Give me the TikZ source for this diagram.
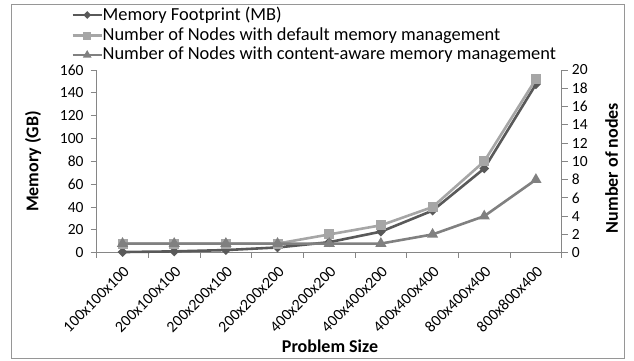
\documentclass[tikz,border=0pt]{standalone}
\usepackage{fontspec}
\setmainfont{Carlito}
\usepackage{tikz}
\usetikzlibrary{shapes.geometric}

\definecolor{serMem}{RGB}{89,89,89}
\definecolor{serDef}{RGB}{166,166,166}
\definecolor{serCa}{RGB}{128,128,128}
\definecolor{axisgray}{RGB}{134,134,134}
\definecolor{framegray}{RGB}{150,150,150}

\begin{document}
\begin{tikzpicture}[x=1pt, y=1pt,
    frame/.style={draw=framegray, line width=1.5pt},
    axisline/.style={draw=axisgray, line width=0.9pt},
    serline/.style={line width=2.6pt, line join=round},
    mkdia/.style={diamond, fill=serMem, inner sep=0pt, minimum size=10pt},
    mksq/.style={rectangle, fill=serDef, inner sep=0pt, minimum size=10pt},
    mktri/.style={regular polygon, regular polygon sides=3, fill=serCa, inner sep=0pt, minimum size=13pt},
    ticklabel/.style={font=\fontsize{15.5}{17}\selectfont, inner sep=0pt},
    catlabel/.style={font=\fontsize{15.8}{17}\selectfont, inner sep=0pt, rotate=45, anchor=east},
    legtext/.style={font=\fontsize{18.4}{20}\selectfont, inner sep=0pt, anchor=west},
    axtitle/.style={font=\fontsize{18}{20}\selectfont\bfseries, inner sep=0pt}]
    % Define plot area parameters
    \def\xL{96.7} % left value axis
    \def\xR{561.7} % right value axis
    \def\yZ{107.3} % zero line
    \def\yT{290} % top of plot area
    \def\cw{51.67} % width of one category
    \def\gb{1.1419} % pt per GB
    \def\nd{9.134} % pt per node

    \useasboundingbox (0,0) rectangle (634,360);

    % Chart border
    \draw[frame] (11.7,1.3) rectangle (624.3,355.7);

    % Left axis with ticks and labels
    \draw[axisline] (\xL,\yZ-5) -- (\xL,\yT);
    \foreach \v in {0,20,...,160} {
        \draw[axisline] (\xL-6,{\yZ+\v*\gb}) -- (\xL,{\yZ+\v*\gb});
        \node[ticklabel, anchor=east] (ly\v) at (\xL-13,{\yZ+\v*\gb}) {\v};
    }

    % Right axis with ticks and labels
    \draw[axisline] (\xR,\yZ) -- (\xR,\yT);
    \foreach \v in {0,2,...,20} {
        \draw[axisline] (\xR,{\yZ+\v*\nd}) -- (\xR+6,{\yZ+\v*\nd});
        \node[ticklabel, anchor=west] (ry\v) at (\xR+10,{\yZ+\v*\nd}) {\v};
    }

    % Category axis
    \draw[axisline] (\xL,\yZ) -- (\xR,\yZ);
    \foreach \i in {0,...,9}
        \draw[axisline] ({\xL+\i*\cw},\yZ) -- ++(0,-5);
    \foreach \lab [count=\i] in {100x100x100,200x100x100,200x200x100,200x200x200,400x200x200,400x400x200,400x400x400,800x400x400,800x800x400}
        \node[catlabel] (cat\i) at ({\xL+(\i-0.5)*\cw+4},\yZ-16) {\lab};

    % Data points
    \foreach \v [count=\i] in {0.576,1.152,2.304,4.608,9.216,18.432,36.864,73.728,147.456}
        \coordinate (m\i) at ({\xL+(\i-0.5)*\cw},{\yZ+\v*\gb});
    \foreach \v [count=\i] in {1,1,1,1,2,3,5,10,19}
        \coordinate (d\i) at ({\xL+(\i-0.5)*\cw},{\yZ+\v*\nd});
    \foreach \v [count=\i] in {1,1,1,1,1,1,2,4,8}
        \coordinate (c\i) at ({\xL+(\i-0.5)*\cw},{\yZ+\v*\nd});

    % Memory footprint series
    \draw[serline, serMem] (m1) \foreach \i in {2,...,9} {-- (m\i)};
    \foreach \i in {1,...,9} \node[mkdia] (mk\i) at (m\i) {};

    % Default memory management series
    \draw[serline, serDef] (d1) \foreach \i in {2,...,9} {-- (d\i)};
    \foreach \i in {1,...,9} \node[mksq] (dk\i) at (d\i) {};

    % Content-aware memory management series
    \draw[serline, serCa] (c1) \foreach \i in {2,...,9} {-- (c\i)};
    \foreach \i in {1,...,9} \node[mktri] (ck\i) at (c\i) {};

    % Legend
    \draw[serline, serMem] (72.7,345) -- (101.7,345);
    \node[mkdia, minimum size=8pt] (lgm) at (87.2,345) {};
    \node[legtext] (lgmt) at (102.5,345) {Memory Footprint (MB)};
    \draw[serline, serDef] (72.7,324.5) -- (101.7,324.5);
    \node[mksq, minimum size=8pt] (lgd) at (87.2,324.5) {};
    \node[legtext] (lgdt) at (102.5,324.5) {Number of Nodes with default memory management};
    \draw[serline, serCa] (72.7,305) -- (101.7,305);
    \node[mktri, minimum size=10pt] (lgc) at (87.2,305) {};
    \node[legtext] (lgct) at (102.5,305) {Number of Nodes with content-aware memory management};

    % Axis titles
    \node[axtitle, rotate=90] (ytl) at (33,198.5) {Memory (GB)};
    \node[axtitle, rotate=90] (ytr) at (611.7,192) {Number of nodes};
    \node[axtitle] (xt) at (330,13.3) {Problem Size};
\end{tikzpicture}
\end{document}
